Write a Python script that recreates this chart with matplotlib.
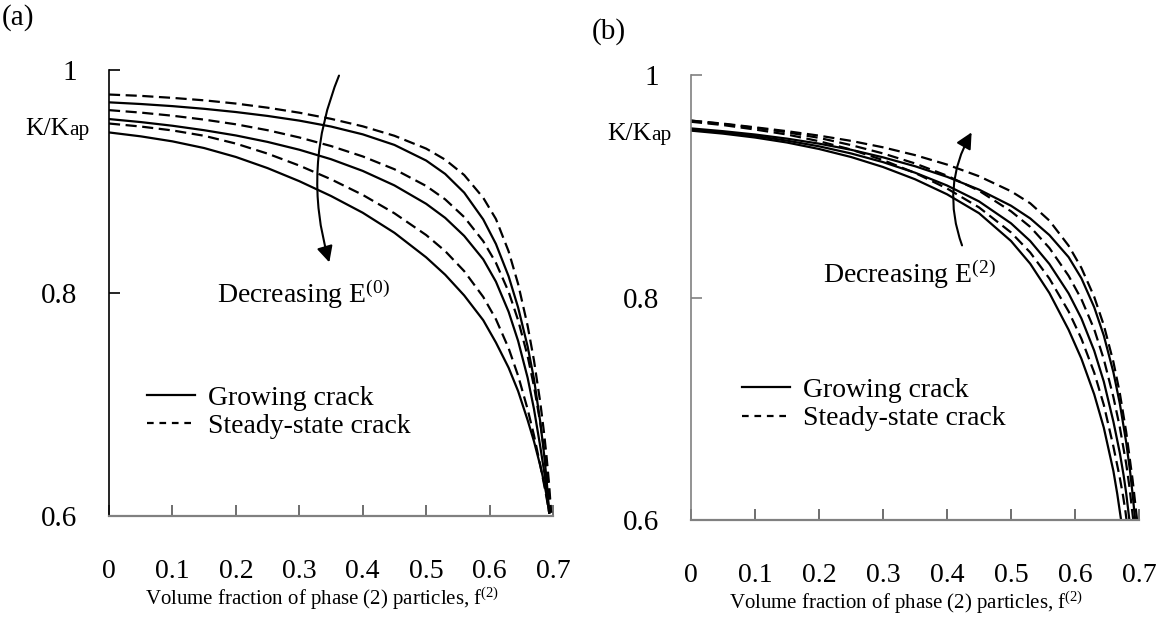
import matplotlib
matplotlib.use("Agg")
import matplotlib.pyplot as plt
from matplotlib.patches import FancyArrowPatch
from matplotlib.lines import Line2D

plt.rcParams["font.family"] = ["Liberation Serif", "DejaVu Serif"]
plt.rcParams["mathtext.fontset"] = "custom"
plt.rcParams["mathtext.rm"] = "Liberation Serif"
plt.rcParams["mathtext.it"] = "Liberation Serif:italic"
plt.rcParams["mathtext.bf"] = "Liberation Serif:bold"

# ---------------- panel (a): effect of E(0) ----------------
f_a = [0, 0.05, 0.1, 0.15, 0.2, 0.25, 0.3, 0.35, 0.4, 0.45, 0.5, 0.53, 0.56,
       0.59, 0.61, 0.63, 0.645, 0.66, 0.67, 0.68, 0.686, 0.69, 0.694]
f_a_long = f_a + [0.697]
grow_a1 = [0.971, 0.9695, 0.9676, 0.9652, 0.9623, 0.9588, 0.9546, 0.9493,
           0.9423, 0.9328, 0.9188, 0.9068, 0.8900, 0.8660, 0.8440, 0.8150,
           0.787, 0.752, 0.723, 0.684, 0.655, 0.632, 0.603]
grow_a2 = [0.956, 0.9533, 0.9500, 0.9460, 0.9413, 0.9355, 0.9285, 0.9200,
           0.9095, 0.8965, 0.8800, 0.8674, 0.8512, 0.8302, 0.8102, 0.7832,
           0.7570, 0.7240, 0.6960, 0.6620, 0.640, 0.623, 0.603]
grow_a3 = [0.944, 0.9405, 0.9360, 0.9300, 0.9220, 0.9120, 0.9003, 0.8870,
           0.8720, 0.8540, 0.8320, 0.8164, 0.7978, 0.7756, 0.7556, 0.733,
           0.712, 0.686, 0.667, 0.645, 0.630, 0.618, 0.603]
steady_a1 = [0.978, 0.9768, 0.9750, 0.9728, 0.9699, 0.9662, 0.9617, 0.9562,
             0.9495, 0.9410, 0.9295, 0.9196, 0.9058, 0.8854, 0.8664, 0.8374,
             0.8081, 0.7706, 0.7396, 0.7016, 0.674, 0.6524, 0.6276, 0.603]
steady_a2 = [0.964, 0.9618, 0.9590, 0.9555, 0.9513, 0.9460, 0.9395, 0.9318,
             0.9225, 0.9110, 0.8960, 0.8840, 0.8681, 0.8465, 0.8271, 0.8011,
             0.7756, 0.7434, 0.7164, 0.6834, 0.6594, 0.6406, 0.6186, 0.603]
steady_a3 = [0.952, 0.9493, 0.9458, 0.9410, 0.9340, 0.9250, 0.9143, 0.9020,
             0.8880, 0.8715, 0.8520, 0.8376, 0.8196, 0.7965, 0.7765, 0.7505,
             0.7258, 0.6958, 0.6723, 0.6453, 0.628, 0.616, 0.603]

# ---------------- panel (b): effect of E(2) ----------------
f_grow_b1 = [0, 0.05, 0.1, 0.15, 0.2, 0.25, 0.3, 0.35, 0.4, 0.45, 0.5, 0.53,
             0.56, 0.59, 0.61, 0.63, 0.645, 0.66, 0.67, 0.68, 0.686, 0.69, 0.694]
grow_b1 = [0.952, 0.9495, 0.9465, 0.9428, 0.9383, 0.9328, 0.926, 0.918,
           0.9085, 0.897, 0.8825, 0.8711, 0.8561, 0.8363, 0.8173, 0.7913,
           0.7658, 0.7328, 0.7048, 0.6698, 0.644, 0.6232, 0.600]
f_grow_b2 = [0, 0.05, 0.1, 0.15, 0.2, 0.25, 0.3, 0.35, 0.4, 0.45, 0.5, 0.53,
             0.56, 0.59, 0.61, 0.63, 0.645, 0.66, 0.67, 0.676, 0.68, 0.685]
grow_b2 = [0.951, 0.9484, 0.9452, 0.941, 0.9359, 0.9295, 0.9217, 0.9122,
           0.9007, 0.8864, 0.8667, 0.8508, 0.8301, 0.8037, 0.7812, 0.7522,
           0.7244, 0.6884, 0.6604, 0.640, 0.624, 0.600]
f_grow_b3 = [0, 0.05, 0.1, 0.15, 0.2, 0.25, 0.3, 0.35, 0.4, 0.45, 0.5, 0.53,
             0.56, 0.59, 0.61, 0.63, 0.645, 0.66, 0.666, 0.672]
grow_b3 = [0.950, 0.9473, 0.9438, 0.9393, 0.9335, 0.9263, 0.9173, 0.9063,
           0.8928, 0.8758, 0.8508, 0.8304, 0.8040, 0.7710, 0.7450, 0.7130,
           0.6830, 0.6440, 0.6236, 0.600]
f_steady_b1 = [0, 0.05, 0.1, 0.15, 0.2, 0.25, 0.3, 0.35, 0.4, 0.45, 0.5, 0.53,
               0.56, 0.59, 0.61, 0.63, 0.645, 0.66, 0.67, 0.68, 0.69, 0.697]
steady_b1 = [0.959, 0.9563, 0.953, 0.9495, 0.9455, 0.9408, 0.935, 0.928,
             0.9195, 0.909, 0.8955, 0.8847, 0.8691, 0.8466, 0.8266, 0.8006,
             0.7751, 0.7421, 0.7141, 0.6791, 0.6361, 0.600]
f_steady_b2 = [0, 0.05, 0.1, 0.15, 0.2, 0.25, 0.3, 0.35, 0.4, 0.45, 0.5, 0.53,
               0.56, 0.59, 0.61, 0.63, 0.645, 0.66, 0.67, 0.68, 0.685, 0.689,
               0.691]
steady_b2 = [0.959, 0.956, 0.9525, 0.9485, 0.9435, 0.937, 0.9295, 0.9205,
             0.9095, 0.896, 0.8775, 0.8635, 0.8445, 0.8195, 0.7985, 0.7715,
             0.7445, 0.7105, 0.6835, 0.6505, 0.630, 0.610, 0.600]
f_steady_b3 = [0, 0.05, 0.1, 0.15, 0.2, 0.25, 0.3, 0.35, 0.4, 0.45, 0.5, 0.53,
               0.56, 0.59, 0.61, 0.63, 0.645, 0.66, 0.67, 0.675, 0.679, 0.6805]
steady_b3 = [0.958, 0.955, 0.951, 0.9465, 0.9405, 0.933, 0.9235, 0.912,
             0.898, 0.881, 0.8585, 0.8405, 0.817, 0.7875, 0.763, 0.7325,
             0.7035, 0.666, 0.638, 0.622, 0.607, 0.600]

x_ticks = [0, 0.1, 0.2, 0.3, 0.4, 0.5, 0.6, 0.7]
x_ticklabels = ["0", "0.1", "0.2", "0.3", "0.4", "0.5", "0.6", "0.7"]
y_ticks = [0.6, 0.8, 1.0]
y_ticklabels = ["0.6", "0.8", "1"]

xlabel = "Volume fraction of phase (2) particles, f$^{\\mathregular{(2)}}$"
legend_labels = ["Growing crack", "Steady-state crack"]

LW = 1.6
DASH = (5, 2.5)

fig = plt.figure(figsize=(11.71, 6.18), dpi=100)
ax_a = fig.add_axes([109 / 1171, 102 / 618, 444 / 1171, 446 / 618])
ax_b = fig.add_axes([691 / 1171, 98 / 618, 448 / 1171, 445 / 618])


def style_axes(ax, left_color):
    ax.set_xlim(0, 0.7)
    ax.set_ylim(0.6, 1.0)
    for side in ("top", "right"):
        ax.spines[side].set_visible(False)
    ax.spines["left"].set_color(left_color)
    ax.spines["left"].set_linewidth(1.2)
    ax.spines["bottom"].set_color("#808080")
    ax.spines["bottom"].set_linewidth(1.6)
    ax.set_xticks(x_ticks)
    ax.set_xticklabels(x_ticklabels, fontsize=20)
    ax.set_yticks(y_ticks)
    ax.set_yticklabels(y_ticklabels, fontsize=21)
    ax.tick_params(axis="x", direction="in", length=8, width=1.2,
                   color="#555555", pad=31)
    ax.tick_params(axis="y", direction="in", length=8, width=1.2,
                   color=left_color, pad=23)
    ax.set_xlabel(xlabel, fontsize=15)
    ax.xaxis.set_label_coords(0.48, -0.185)
    ax.xaxis.label.set_va("center")


style_axes(ax_a, "black")
style_axes(ax_b, "#808080")

# panel (a) curves
for ys in (grow_a1, grow_a2, grow_a3):
    ax_a.plot(f_a, ys, color="black", lw=LW)
ax_a.plot(f_a_long, steady_a1, color="black", lw=LW, dashes=DASH)
ax_a.plot(f_a_long, steady_a2, color="black", lw=LW, dashes=DASH)
ax_a.plot(f_a, steady_a3, color="black", lw=LW, dashes=DASH)

# panel (b) curves
for xs, ys in ((f_grow_b1, grow_b1), (f_grow_b2, grow_b2), (f_grow_b3, grow_b3)):
    ax_b.plot(xs, ys, color="black", lw=LW)
for xs, ys in ((f_steady_b1, steady_b1), (f_steady_b2, steady_b2),
               (f_steady_b3, steady_b3)):
    ax_b.plot(xs, ys, color="black", lw=LW, dashes=DASH)

# legends
handles = [Line2D([], [], color="black", lw=LW),
           Line2D([], [], color="black", lw=LW, dashes=(3.0, 2.6))]
for ax, anchor in ((ax_a, (0.086, 0.293)), (ax_b, (0.114, 0.320))):
    ax.legend(handles, legend_labels, loc="upper left", bbox_to_anchor=anchor,
              frameon=False, fontsize=20, handlelength=1.73,
              handletextpad=0.47, labelspacing=0.1, borderpad=0,
              borderaxespad=0)

# trend arrows and annotations
arr_a = FancyArrowPatch((0.3643, 0.9973), (0.3486, 0.8251),
                        connectionstyle="arc3,rad=0.18", arrowstyle="-|>",
                        mutation_scale=24, lw=1.5, color="black")
ax_a.add_patch(arr_a)
ax_a.text(0.170, 0.791, "Decreasing E$^{\\mathregular{(0)}}$", fontsize=20,
          ha="left", va="baseline")

arr_b = FancyArrowPatch((0.425, 0.8445), (0.4406, 0.9506),
                        connectionstyle="arc3,rad=-0.24", arrowstyle="-|>",
                        mutation_scale=24, lw=1.5, color="black")
ax_b.add_patch(arr_b)
ax_b.text(0.206, 0.813, "Decreasing E$^{\\mathregular{(2)}}$", fontsize=20,
          ha="left", va="baseline")

# y-axis quantity labels
for xpix, ypix in ((25, 135), (607, 140)):
    kt = fig.text(xpix / 1171, 1 - ypix / 618, "K/K", fontsize=18.5,
                  ha="left", va="baseline")
    fig.add_artist(plt.Annotation("ap", xy=(1, 0), xycoords=kt,
                                  fontsize=15.5, ha="left", va="bottom"))

# panel letters
fig.text(2 / 1171, 1 - 18 / 618, "(a)", fontsize=21, ha="left", va="center")
fig.text(592 / 1171, 1 - 32 / 618, "(b)", fontsize=21, ha="left", va="center")

fig.savefig("out.png", dpi=100)
